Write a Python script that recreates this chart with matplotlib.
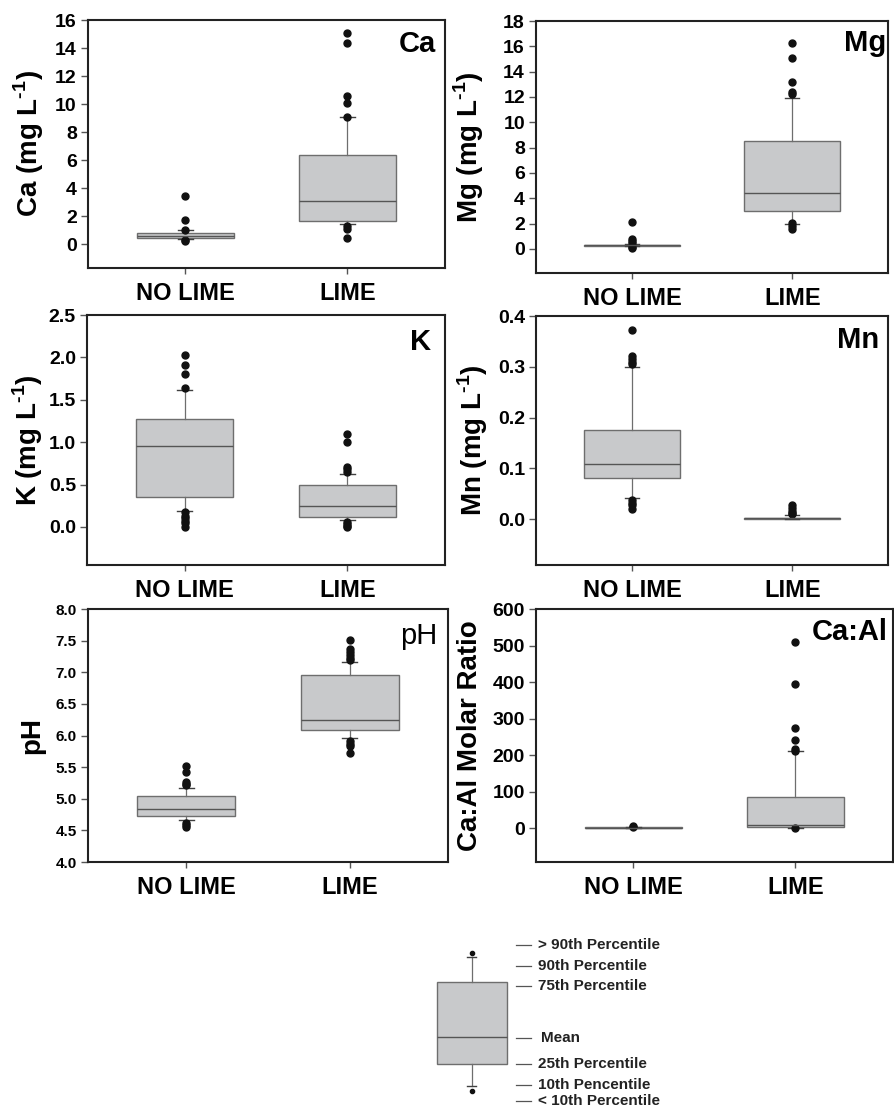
import matplotlib.pyplot as plt

plt.rcParams['font.family'] = ['Liberation Sans', 'DejaVu Sans']
plt.rcParams['font.weight'] = 'bold'
plt.rcParams['mathtext.fontset'] = 'custom'
plt.rcParams['mathtext.rm'] = 'Liberation Sans:bold'
plt.rcParams['mathtext.bf'] = 'Liberation Sans:bold'

groups = ['NO LIME', 'LIME']

# Ca (mg/L)
ca_q1 = [0.45, 1.64]
ca_mean = [0.60, 3.07]
ca_q3 = [0.80, 6.38]
ca_p10 = [0.35, 1.43]
ca_p90 = [1.00, 9.07]
ca_out = [[3.45, 1.70, 1.02, 0.30, 0.24],
          [15.1, 14.38, 10.57, 10.1, 9.1, 1.29, 1.05, 0.41]]

# Mg (mg/L)
mg_q1 = [0.24, 3.03]
mg_mean = [0.30, 4.39]
mg_q3 = [0.34, 8.52]
mg_p10 = [0.22, 1.97]
mg_p90 = [0.36, 11.9]
mg_out = [[2.15, 0.78, 0.65, 0.5, 0.12, 0.05],
          [16.3, 15.05, 13.2, 12.4, 12.2, 2.05, 1.85, 1.6]]

# K (mg/L)
k_q1 = [0.354, 0.118]
k_mean = [0.955, 0.25]
k_q3 = [1.27, 0.50]
k_p10 = [0.19, 0.078]
k_p90 = [1.61, 0.625]
k_out = [[2.03, 1.91, 1.80, 1.64, 0.17, 0.13, 0.10, 0.07, 0.04, 0.0],
         [1.10, 1.0, 0.71, 0.68, 0.65, 0.06, 0.03, 0.01, 0.0]]

# Mn (mg/L)
mn_q1 = [0.082, 0.001]
mn_mean = [0.108, 0.002]
mn_q3 = [0.175, 0.003]
mn_p10 = [0.042, 0.001]
mn_p90 = [0.300, 0.008]
mn_out = [[0.372, 0.322, 0.315, 0.31, 0.305, 0.038, 0.033, 0.028, 0.02],
          [0.029, 0.022, 0.016, 0.012, 0.01]]

# pH
ph_q1 = [4.73, 6.09]
ph_mean = [4.84, 6.245]
ph_q3 = [5.04, 6.96]
ph_p10 = [4.66, 5.96]
ph_p90 = [5.17, 7.17]
ph_out = [[5.52, 5.43, 5.26, 5.24, 5.22, 4.62, 4.58, 4.55],
          [7.51, 7.37, 7.32, 7.28, 7.23, 7.2, 5.92, 5.86, 5.83, 5.73]]

# Ca:Al molar ratio
caal_q1 = [0.0, 3.6]
caal_mean = [1.0, 8.0]
caal_q3 = [2.0, 86.0]
caal_p10 = [0.0, 0.5]
caal_p90 = [2.5, 210.0]
caal_out = [[5.0, 3.0],
            [510, 394, 274, 242, 217, 212, 0.0]]

# schematic legend box (arbitrary units)
leg_q1, leg_mean, leg_q3 = 36, 63, 118
leg_p10, leg_p90 = 14, 143
leg_out = [147, 9]
leg_labels = ['> 90th Percentile', '90th Percentile', '75th Percentile', 'Mean',
              '25th Percentile', '10th Pencentile', '< 10th Percentile']
leg_label_y = [155, 134, 114, 62, 36, 15, -1]

BOX = dict(facecolor='#c8c9cb', edgecolor='#6e6e6e', linewidth=1.0)
MED = dict(color='#555555', linewidth=1.0)
WHIS = dict(color='#6e6e6e', linewidth=0.9)
CAP = dict(color='#404040', linewidth=1.0)

UNIT = r' (mg L$^{\text{-}1}$)'


def draw_panel(ax, q1, mean, q3, p10, p90, out, ylim, ticks, fmt, ylabel, tag,
               lab_x, tick_fs=14, tag_weight='bold', tag_xy=(0.975, 0.96)):
	stats = []
	for i in range(2):
		stats.append(dict(q1=q1[i], med=mean[i], q3=q3[i], whislo=p10[i],
		                  whishi=p90[i], fliers=out[i], label=groups[i]))
	ax.bxp(stats, positions=[1, 2], widths=0.6, capwidths=0.09, patch_artist=True,
	       boxprops=BOX, medianprops=MED, whiskerprops=WHIS, capprops=CAP,
	       flierprops=dict(marker='o', markerfacecolor='#111111',
	                       markeredgecolor='#111111', markersize=5))
	ax.set_xlim(0.4, 2.6)
	ax.set_ylim(*ylim)
	ax.set_yticks(ticks)
	ax.set_yticklabels([fmt.format(t) for t in ticks], fontsize=tick_fs, fontweight='bold')
	ax.set_xticks([1, 2])
	ax.set_xticklabels(groups, fontsize=17, fontweight='bold')
	ax.tick_params(axis='y', direction='out', length=5, width=1, color='#555555', pad=3)
	ax.tick_params(axis='x', direction='out', length=4, width=1, color='#555555', pad=6)
	for s in ax.spines.values():
		s.set_linewidth(1.5)
		s.set_color('#222222')
	ax.set_ylabel(ylabel, fontsize=20, fontweight='bold')
	ax.yaxis.set_label_coords(lab_x, 0.5)
	ax.yaxis.label.set_va('center')
	ax.text(tag_xy[0], tag_xy[1], tag, transform=ax.transAxes, ha='right', va='top',
	        fontsize=21, fontweight=tag_weight)


fig = plt.figure(figsize=(8.94, 11.12), dpi=100)

ax1 = fig.add_axes([0.0984, 0.759, 0.399, 0.223])
draw_panel(ax1, ca_q1, ca_mean, ca_q3, ca_p10, ca_p90, ca_out, (-1.7, 16),
           range(0, 17, 2), '{:d}', 'Ca' + UNIT, 'Ca', -0.165)

ax2 = fig.add_axes([0.5996, 0.7545, 0.394, 0.2266])
draw_panel(ax2, mg_q1, mg_mean, mg_q3, mg_p10, mg_p90, mg_out, (-1.9, 18),
           range(0, 19, 2), '{:d}', 'Mg' + UNIT, 'Mg', -0.19,
           tag_xy=(0.995, 0.97))

ax3 = fig.add_axes([0.0973, 0.4919, 0.4004, 0.2248])
draw_panel(ax3, k_q1, k_mean, k_q3, k_p10, k_p90, k_out, (-0.45, 2.5),
           [0, 0.5, 1.0, 1.5, 2.0, 2.5], '{:.1f}', 'K' + UNIT, 'K', -0.165,
           tag_xy=(0.96, 0.95))

ax4 = fig.add_axes([0.5996, 0.4919, 0.394, 0.2239])
draw_panel(ax4, mn_q1, mn_mean, mn_q3, mn_p10, mn_p90, mn_out, (-0.09, 0.4),
           [0, 0.1, 0.2, 0.3, 0.4], '{:.1f}', 'Mn' + UNIT, 'Mn', -0.18)

ax5 = fig.add_axes([0.0984, 0.2248, 0.4027, 0.2275])
draw_panel(ax5, ph_q1, ph_mean, ph_q3, ph_p10, ph_p90, ph_out, (4.0, 8.0),
           [4.0, 4.5, 5.0, 5.5, 6.0, 6.5, 7.0, 7.5, 8.0], '{:.1f}', 'pH', 'pH', -0.155,
           tick_fs=11, tag_weight='normal', tag_xy=(0.97, 0.95))

ax6 = fig.add_axes([0.5996, 0.2248, 0.399, 0.2275])
draw_panel(ax6, caal_q1, caal_mean, caal_q3, caal_p10, caal_p90, caal_out, (-93, 600),
           range(0, 601, 100), '{:d}', 'Ca:Al Molar Ratio', 'Ca:Al', -0.184,
           tag_xy=(0.985, 0.965))

# legend key
axl = fig.add_axes([0.4474, 0.0018, 0.4474, 0.1619])
axl.bxp([dict(q1=leg_q1, med=leg_mean, q3=leg_q3, whislo=leg_p10, whishi=leg_p90,
              fliers=leg_out)], positions=[72], widths=70, capwidths=9,
        patch_artist=True, boxprops=BOX, medianprops=MED, whiskerprops=WHIS,
        capprops=CAP, flierprops=dict(marker='o', markerfacecolor='#111111',
                                      markeredgecolor='#111111', markersize=3))
for lab, yv in zip(leg_labels, leg_label_y):
	tx = 141 if lab == 'Mean' else 138
	axl.plot([116, 131], [yv, yv], color='#555555', linewidth=0.9)
	axl.text(tx, yv, lab, ha='left', va='center', fontsize=11, fontweight='bold',
	         color='#222222')
axl.set_xlim(0, 400)
axl.set_ylim(-10, 170)
axl.axis('off')

fig.savefig('out.png', dpi=100)
